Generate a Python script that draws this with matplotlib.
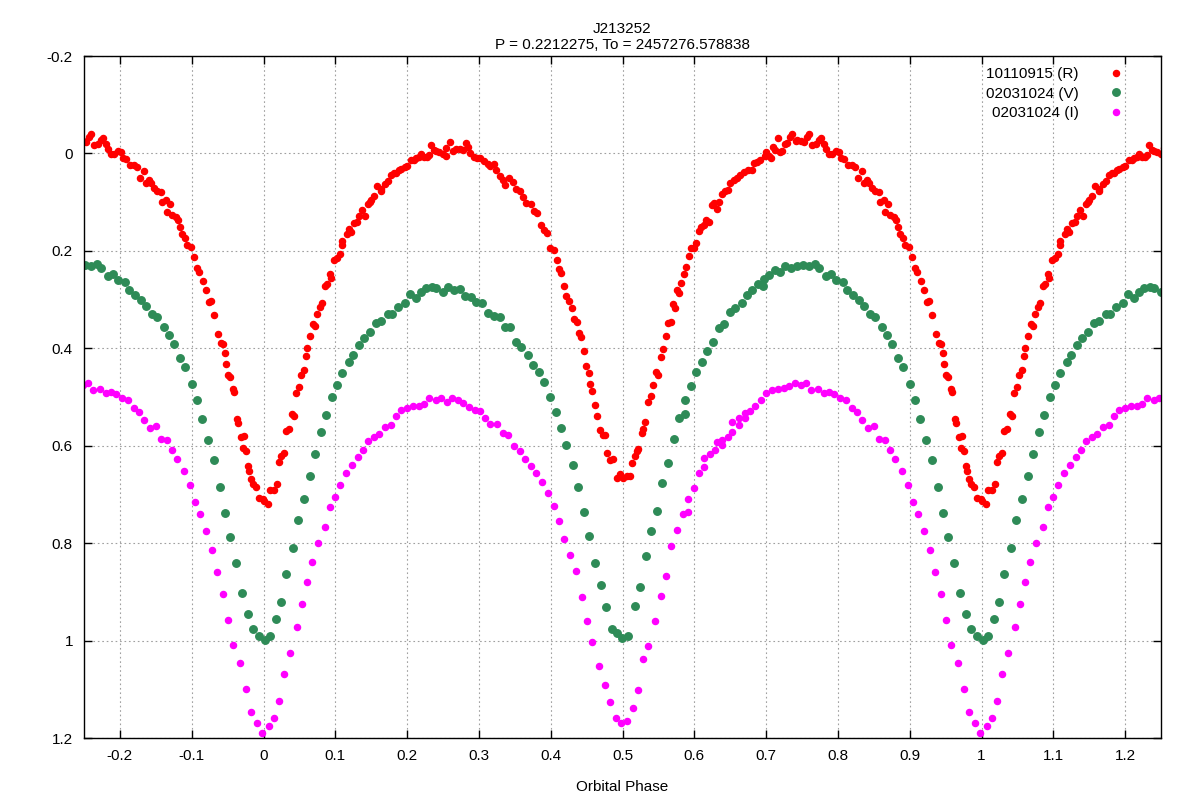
import numpy as np
import matplotlib.pyplot as plt
from matplotlib.ticker import FormatStrFormatter

plt.rcParams['font.family'] = ['Liberation Sans', 'DejaVu Sans']

title = "J213252\nP = 0.2212275, To = 2457276.578838"
labels = ["10110915 (R)", "02031024 (V)", "02031024 (I)"]
colors = ["#ff0000", "#2e8b57", "#ff00ff"]

# R band, one period (phase, delta mag)
r_phase = [
    0.000, 0.006, 0.009, 0.015, 0.019, 0.022, 0.025, 0.028, 0.032, 0.035,
    0.039, 0.042, 0.045, 0.049, 0.052, 0.056, 0.059, 0.061, 0.065, 0.069,
    0.072, 0.075, 0.078, 0.082, 0.085, 0.088, 0.092, 0.094, 0.098, 0.102,
    0.106, 0.109, 0.110, 0.116, 0.119, 0.122, 0.126, 0.130, 0.133, 0.137,
    0.141, 0.145, 0.148, 0.150, 0.154, 0.158, 0.163, 0.164, 0.169, 0.174,
    0.177, 0.182, 0.185, 0.189, 0.192, 0.197, 0.200, 0.205, 0.209, 0.213,
    0.217, 0.220, 0.224, 0.228, 0.231, 0.233, 0.237,
    0.240, 0.245, 0.250, 0.254, 0.254, 0.260, 0.264, 0.268, 0.273, 0.278,
    0.282, 0.285, 0.288, 0.293, 0.298, 0.302, 0.307, 0.312, 0.316, 0.321,
    0.324, 0.329, 0.333, 0.337, 0.342, 0.348, 0.352, 0.357, 0.362, 0.366,
    0.372, 0.377, 0.381, 0.386, 0.390, 0.395, 0.399, 0.405, 0.409, 0.412,
    0.414, 0.419, 0.422, 0.426, 0.429, 0.432, 0.436, 0.439, 0.442, 0.446,
    0.449, 0.453, 0.455, 0.458, 0.462, 0.465, 0.469, 0.473, 0.476, 0.479,
    0.482, 0.487,
    0.492, 0.497, 0.501, 0.506, 0.511, 0.513, 0.517, 0.520, 0.522, 0.527,
    0.529, 0.532, 0.536, 0.539, 0.543, 0.546, 0.549, 0.553, 0.556, 0.560,
    0.563, 0.567, 0.570, 0.573, 0.576, 0.578, 0.582, 0.586, 0.589, 0.592,
    0.596, 0.599, 0.603, 0.606, 0.610, 0.613, 0.616, 0.621, 0.624, 0.627,
    0.631, 0.634, 0.638, 0.643, 0.647, 0.650, 0.655, 0.660, 0.664, 0.669,
    0.675, 0.680, 0.683, 0.687, 0.692, 0.698, 0.700, 0.704, 0.707, 0.710,
    0.713, 0.717, 0.719, 0.722, 0.726, 0.729, 0.733, 0.736, 0.741,
    0.743, 0.748, 0.753, 0.757, 0.760, 0.764, 0.769, 0.774, 0.777, 0.781,
    0.784, 0.787, 0.792, 0.797, 0.801, 0.805, 0.809, 0.814, 0.819, 0.824,
    0.828, 0.834, 0.836, 0.840, 0.843, 0.848, 0.852, 0.857, 0.859, 0.864,
    0.870, 0.866, 0.873, 0.878, 0.881, 0.884, 0.886, 0.890, 0.893, 0.899,
    0.903, 0.907, 0.910, 0.916, 0.920, 0.924, 0.927, 0.931, 0.936, 0.941,
    0.944, 0.947, 0.948, 0.951, 0.954, 0.957, 0.959, 0.963, 0.965, 0.968,
    0.973, 0.971, 0.975, 0.979, 0.980, 0.982, 0.986, 0.990, 0.994, 0.999,
]
r_mag = [
    0.714, 0.720, 0.690, 0.690, 0.678, 0.634, 0.622, 0.614, 0.570, 0.566,
    0.534, 0.539, 0.491, 0.479, 0.454, 0.445, 0.415, 0.399, 0.375, 0.350,
    0.355, 0.330, 0.316, 0.308, 0.273, 0.269, 0.248, 0.256, 0.218, 0.214,
    0.206, 0.188, 0.179, 0.166, 0.155, 0.161, 0.143, 0.141, 0.129, 0.116,
    0.128, 0.104, 0.100, 0.095, 0.088, 0.066, 0.078, 0.073, 0.062, 0.056,
    0.044, 0.041, 0.041, 0.033, 0.032, 0.028, 0.025, 0.014, 0.014, 0.010,
    0.008, 0.001, 0.008, 0.008, 0.004, -0.018, -0.007,
    -0.006, -0.002, 0.002, 0.005, -0.011, -0.024, -0.006, -0.010, -0.010, -0.008,
    -0.022, -0.013, 0.000, 0.008, 0.010, 0.010, 0.016, 0.021, 0.025, 0.022,
    0.034, 0.046, 0.054, 0.064, 0.050, 0.058, 0.072, 0.077, 0.090, 0.102,
    0.103, 0.118, 0.122, 0.147, 0.158, 0.164, 0.194, 0.199, 0.219, 0.237,
    0.245, 0.273, 0.293, 0.303, 0.317, 0.339, 0.347, 0.369, 0.377, 0.406,
    0.436, 0.451, 0.474, 0.487, 0.516, 0.539, 0.568, 0.578, 0.578, 0.614,
    0.629, 0.628,
    0.667, 0.659, 0.667, 0.663, 0.663, 0.635, 0.622, 0.610, 0.606, 0.574,
    0.566, 0.551, 0.511, 0.497, 0.476, 0.448, 0.454, 0.417, 0.401, 0.374,
    0.348, 0.347, 0.310, 0.318, 0.280, 0.286, 0.266, 0.248, 0.233, 0.210,
    0.194, 0.195, 0.184, 0.159, 0.150, 0.147, 0.136, 0.140, 0.106, 0.102,
    0.114, 0.100, 0.083, 0.077, 0.075, 0.061, 0.055, 0.051, 0.045, 0.039,
    0.033, 0.033, 0.020, 0.017, 0.013, 0.006, -0.002, 0.006, 0.009, -0.014,
    -0.007, -0.031, -0.002, -0.006, -0.019, -0.022, -0.034, -0.040, -0.026,
    -0.028, -0.026, -0.024, -0.034, -0.040, -0.018, -0.020, -0.028, -0.032, -0.020,
    -0.010, 0.001, 0.001, -0.004, -0.002, 0.009, 0.012, 0.023, 0.024, 0.028,
    0.051, 0.037, 0.061, 0.055, 0.061, 0.071, 0.078, 0.079, 0.100, 0.096,
    0.104, 0.120, 0.126, 0.130, 0.136, 0.150, 0.165, 0.173, 0.189, 0.193,
    0.212, 0.235, 0.243, 0.262, 0.280, 0.306, 0.302, 0.332, 0.371, 0.389,
    0.391, 0.409, 0.432, 0.455, 0.458, 0.483, 0.490, 0.545, 0.554, 0.582,
    0.580, 0.605, 0.610, 0.641, 0.651, 0.669, 0.679, 0.684, 0.708, 0.709,
]

# V band
v_phase = [
    0.002, 0.009, 0.017, 0.025, 0.032, 0.041, 0.048, 0.056, 0.065, 0.072,
    0.080, 0.087, 0.095, 0.103, 0.110, 0.119, 0.125, 0.133, 0.140, 0.149,
    0.157, 0.164, 0.174, 0.179, 0.188, 0.197, 0.204, 0.212, 0.219, 0.227,
    0.235,
    0.240, 0.250, 0.257, 0.266, 0.274, 0.281, 0.289, 0.296, 0.305, 0.313,
    0.321, 0.329, 0.336, 0.344, 0.352, 0.359, 0.369, 0.375, 0.384, 0.391,
    0.399, 0.407, 0.414, 0.422, 0.431, 0.438, 0.447, 0.454, 0.462, 0.470,
    0.477, 0.486, 0.493,
    0.499, 0.508, 0.518, 0.524, 0.533, 0.540, 0.548, 0.555, 0.563, 0.572,
    0.579, 0.587, 0.587, 0.595, 0.603, 0.611, 0.618, 0.626, 0.634, 0.641,
    0.650, 0.657, 0.666, 0.674, 0.680, 0.689, 0.696, 0.697, 0.704, 0.712,
    0.720, 0.727, 0.735,
    0.743, 0.751, 0.760, 0.768, 0.774, 0.783, 0.791, 0.798, 0.807, 0.813,
    0.821, 0.829, 0.837, 0.845, 0.852, 0.861, 0.869, 0.876, 0.884, 0.891,
    0.900, 0.908, 0.915, 0.923, 0.931, 0.939, 0.947, 0.954, 0.962, 0.970,
    0.978, 0.986, 0.994,
]
v_mag = [
    0.998, 0.990, 0.956, 0.921, 0.863, 0.809, 0.753, 0.710, 0.662, 0.616,
    0.572, 0.536, 0.499, 0.476, 0.451, 0.429, 0.413, 0.394, 0.379, 0.367,
    0.349, 0.343, 0.329, 0.329, 0.316, 0.308, 0.289, 0.296, 0.284, 0.277,
    0.275,
    0.277, 0.285, 0.275, 0.281, 0.279, 0.292, 0.295, 0.304, 0.307, 0.327,
    0.333, 0.335, 0.357, 0.357, 0.387, 0.398, 0.413, 0.435, 0.449, 0.469,
    0.499, 0.530, 0.564, 0.598, 0.640, 0.685, 0.737, 0.786, 0.841, 0.885,
    0.931, 0.976, 0.984,
    0.994, 0.991, 0.930, 0.891, 0.826, 0.775, 0.733, 0.677, 0.636, 0.586,
    0.544, 0.535, 0.506, 0.478, 0.448, 0.428, 0.406, 0.387, 0.359, 0.351,
    0.325, 0.317, 0.308, 0.290, 0.280, 0.268, 0.272, 0.258, 0.250, 0.240,
    0.244, 0.232, 0.235,
    0.232, 0.229, 0.232, 0.227, 0.235, 0.251, 0.248, 0.259, 0.264, 0.280,
    0.290, 0.301, 0.314, 0.329, 0.335, 0.357, 0.372, 0.392, 0.419, 0.439,
    0.474, 0.507, 0.545, 0.588, 0.630, 0.684, 0.739, 0.788, 0.841, 0.902,
    0.945, 0.977, 0.991,
]

# I band
i_phase = [
    0.007, 0.014, 0.022, 0.029, 0.037, 0.046, 0.053, 0.061, 0.068, 0.076,
    0.085, 0.092, 0.100, 0.107, 0.115, 0.123, 0.131, 0.139, 0.146, 0.154,
    0.161, 0.169, 0.177, 0.184, 0.192, 0.200, 0.208, 0.216, 0.224, 0.231,
    0.240, 0.247, 0.255, 0.263, 0.271, 0.278, 0.286, 0.294, 0.301, 0.309,
    0.316, 0.325, 0.334, 0.341, 0.349, 0.357, 0.364, 0.372, 0.380, 0.388,
    0.396, 0.404, 0.412, 0.419, 0.427, 0.435, 0.443, 0.451, 0.458, 0.467,
    0.475, 0.482,
    0.491, 0.498, 0.506, 0.514, 0.521, 0.529, 0.536, 0.545, 0.553, 0.560,
    0.568, 0.576, 0.584, 0.591, 0.591, 0.599, 0.607, 0.614, 0.614, 0.622,
    0.629, 0.632, 0.638, 0.638, 0.647, 0.653, 0.653, 0.662, 0.662, 0.670,
    0.670, 0.677, 0.685, 0.693, 0.700, 0.708, 0.716, 0.725, 0.732, 0.740,
    0.748, 0.756, 0.763, 0.772, 0.780, 0.787, 0.794, 0.803, 0.811, 0.819,
    0.826, 0.834, 0.842, 0.850, 0.857, 0.865, 0.872, 0.880, 0.889, 0.897,
    0.905, 0.911, 0.920, 0.928, 0.935, 0.943, 0.951, 0.958, 0.967, 0.975,
    0.982, 0.991, 0.998,
]
i_mag = [
    1.175, 1.159, 1.124, 1.068, 1.026, 0.973, 0.925, 0.879, 0.839, 0.799,
    0.766, 0.725, 0.705, 0.680, 0.656, 0.640, 0.624, 0.608, 0.590, 0.582,
    0.576, 0.562, 0.558, 0.540, 0.527, 0.522, 0.519, 0.519, 0.514, 0.503,
    0.506, 0.502, 0.511, 0.502, 0.506, 0.512, 0.520, 0.526, 0.528, 0.543,
    0.555, 0.555, 0.574, 0.578, 0.600, 0.610, 0.628, 0.641, 0.656, 0.674,
    0.698, 0.724, 0.755, 0.791, 0.824, 0.857, 0.910, 0.959, 1.002, 1.052,
    1.092, 1.126,
    1.159, 1.169, 1.165, 1.139, 1.102, 1.038, 1.011, 0.959, 0.908, 0.868,
    0.805, 0.772, 0.740, 0.737, 0.709, 0.687, 0.656, 0.644, 0.625, 0.618,
    0.609, 0.592, 0.598, 0.588, 0.582, 0.571, 0.552, 0.558, 0.544, 0.544,
    0.532, 0.529, 0.519, 0.506, 0.491, 0.485, 0.483, 0.481, 0.478, 0.472,
    0.476, 0.472, 0.486, 0.483, 0.491, 0.489, 0.493, 0.503, 0.507, 0.523,
    0.531, 0.547, 0.563, 0.560, 0.586, 0.588, 0.608, 0.628, 0.651, 0.681,
    0.716, 0.741, 0.776, 0.815, 0.860, 0.905, 0.957, 1.010, 1.046, 1.099,
    1.147, 1.169, 1.189,
]

series = [(r_phase, r_mag), (v_phase, v_mag), (i_phase, i_mag)]
msizes = [4.4, 5.4, 4.4]

fig, ax = plt.subplots(figsize=(12, 8), dpi=100)
fig.subplots_adjust(left=0.07, right=0.9675, top=0.93, bottom=0.0775)

for (ph, mag), col, lab, ms in zip(series, colors, labels, msizes):
    ph = np.asarray(ph)
    mag = np.asarray(mag)
    # phase-folded data repeated over neighbouring cycles
    allph = np.concatenate([ph - 1, ph, ph + 1])
    allmag = np.concatenate([mag, mag, mag])
    ax.plot(allph, allmag, linestyle='none', marker='o', ms=ms,
            color=col, mec=col, label=lab)

ax.set_xlim(-0.25, 1.25)
ax.set_ylim(1.2, -0.2)
ax.set_xticks(np.round(np.arange(-0.2, 1.21, 0.1), 2))
ax.set_yticks(np.round(np.arange(-0.2, 1.21, 0.2), 2))
ax.xaxis.set_major_formatter(FormatStrFormatter('%g'))
ax.yaxis.set_major_formatter(FormatStrFormatter('%g'))
ax.tick_params(direction='in', length=6, width=1, top=True, right=True,
               labelsize=11, pad=8, colors='black')
ax.grid(True, color='#a0a0a0', linestyle=(0, (1.5, 2.5)), linewidth=0.8)
for sp in ax.spines.values():
    sp.set_linewidth(1)

ax.set_title(title, fontsize=11, pad=5, linespacing=1.2)
ax.set_xlabel("Orbital Phase", fontsize=11, labelpad=12)

ax.legend(loc='upper right', bbox_to_anchor=(0.978, 0.9925), borderaxespad=0,
          frameon=False, markerfirst=False, numpoints=1, fontsize=11,
          handlelength=2, handletextpad=1.45, labelspacing=0.35)

fig.savefig("out.png", dpi=100)
